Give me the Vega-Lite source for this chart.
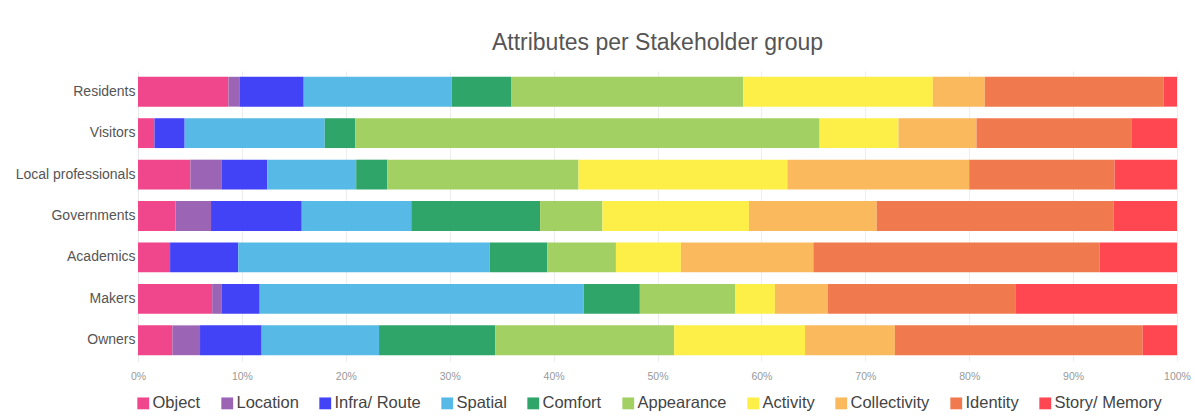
{
  "$schema": "https://vega.github.io/schema/vega-lite/v6.json",
  "width": 1039,
  "height": 290,
  "padding": {"left": 15, "top": 32, "right": 5, "bottom": 0},
  "background": "white",
  "title": {
    "text": "Attributes per Stakeholder group",
    "font": "Liberation Sans",
    "fontSize": 23,
    "fontWeight": "normal",
    "color": "#555555",
    "anchor": "middle",
    "offset": 16
  },
  "config": {
    "view": {"stroke": null},
    "font": "Liberation Sans"
  },
  "datasets": {
    "shares": [
      {"group": "Residents", "attribute": "Object", "n": 1, "value": 8.7},
      {"group": "Residents", "attribute": "Location", "n": 2, "value": 1.06},
      {"group": "Residents", "attribute": "Infra/ Route", "n": 3, "value": 6.19},
      {"group": "Residents", "attribute": "Spatial", "n": 4, "value": 14.25},
      {"group": "Residents", "attribute": "Comfort", "n": 5, "value": 5.7},
      {"group": "Residents", "attribute": "Appearance", "n": 6, "value": 22.36},
      {"group": "Residents", "attribute": "Activity", "n": 7, "value": 18.24},
      {"group": "Residents", "attribute": "Collectivity", "n": 8, "value": 5.0},
      {"group": "Residents", "attribute": "Identity", "n": 9, "value": 17.2},
      {"group": "Residents", "attribute": "Story/ Memory", "n": 10, "value": 1.3},

      {"group": "Visitors", "attribute": "Object", "n": 1, "value": 1.58},
      {"group": "Visitors", "attribute": "Location", "n": 2, "value": 0},
      {"group": "Visitors", "attribute": "Infra/ Route", "n": 3, "value": 2.91},
      {"group": "Visitors", "attribute": "Spatial", "n": 4, "value": 13.48},
      {"group": "Visitors", "attribute": "Comfort", "n": 5, "value": 2.93},
      {"group": "Visitors", "attribute": "Appearance", "n": 6, "value": 44.7},
      {"group": "Visitors", "attribute": "Activity", "n": 7, "value": 7.6},
      {"group": "Visitors", "attribute": "Collectivity", "n": 8, "value": 7.5},
      {"group": "Visitors", "attribute": "Identity", "n": 9, "value": 14.9},
      {"group": "Visitors", "attribute": "Story/ Memory", "n": 10, "value": 4.4},

      {"group": "Local professionals", "attribute": "Object", "n": 1, "value": 5.04},
      {"group": "Local professionals", "attribute": "Location", "n": 2, "value": 2.99},
      {"group": "Local professionals", "attribute": "Infra/ Route", "n": 3, "value": 4.42},
      {"group": "Local professionals", "attribute": "Spatial", "n": 4, "value": 8.55},
      {"group": "Local professionals", "attribute": "Comfort", "n": 5, "value": 3.0},
      {"group": "Local professionals", "attribute": "Appearance", "n": 6, "value": 18.4},
      {"group": "Local professionals", "attribute": "Activity", "n": 7, "value": 20.1},
      {"group": "Local professionals", "attribute": "Collectivity", "n": 8, "value": 17.5},
      {"group": "Local professionals", "attribute": "Identity", "n": 9, "value": 14.0},
      {"group": "Local professionals", "attribute": "Story/ Memory", "n": 10, "value": 6.0},

      {"group": "Governments", "attribute": "Object", "n": 1, "value": 3.61},
      {"group": "Governments", "attribute": "Location", "n": 2, "value": 3.42},
      {"group": "Governments", "attribute": "Infra/ Route", "n": 3, "value": 8.73},
      {"group": "Governments", "attribute": "Spatial", "n": 4, "value": 10.54},
      {"group": "Governments", "attribute": "Comfort", "n": 5, "value": 12.4},
      {"group": "Governments", "attribute": "Appearance", "n": 6, "value": 6.0},
      {"group": "Governments", "attribute": "Activity", "n": 7, "value": 14.1},
      {"group": "Governments", "attribute": "Collectivity", "n": 8, "value": 12.3},
      {"group": "Governments", "attribute": "Identity", "n": 9, "value": 22.8},
      {"group": "Governments", "attribute": "Story/ Memory", "n": 10, "value": 6.1},

      {"group": "Academics", "attribute": "Object", "n": 1, "value": 3.09},
      {"group": "Academics", "attribute": "Location", "n": 2, "value": 0},
      {"group": "Academics", "attribute": "Infra/ Route", "n": 3, "value": 6.56},
      {"group": "Academics", "attribute": "Spatial", "n": 4, "value": 24.2},
      {"group": "Academics", "attribute": "Comfort", "n": 5, "value": 5.55},
      {"group": "Academics", "attribute": "Appearance", "n": 6, "value": 6.6},
      {"group": "Academics", "attribute": "Activity", "n": 7, "value": 6.25},
      {"group": "Academics", "attribute": "Collectivity", "n": 8, "value": 12.75},
      {"group": "Academics", "attribute": "Identity", "n": 9, "value": 27.55},
      {"group": "Academics", "attribute": "Story/ Memory", "n": 10, "value": 7.45},

      {"group": "Makers", "attribute": "Object", "n": 1, "value": 7.14},
      {"group": "Makers", "attribute": "Location", "n": 2, "value": 0.89},
      {"group": "Makers", "attribute": "Infra/ Route", "n": 3, "value": 3.68},
      {"group": "Makers", "attribute": "Spatial", "n": 4, "value": 31.19},
      {"group": "Makers", "attribute": "Comfort", "n": 5, "value": 5.4},
      {"group": "Makers", "attribute": "Appearance", "n": 6, "value": 9.2},
      {"group": "Makers", "attribute": "Activity", "n": 7, "value": 3.8},
      {"group": "Makers", "attribute": "Collectivity", "n": 8, "value": 5.1},
      {"group": "Makers", "attribute": "Identity", "n": 9, "value": 18.1},
      {"group": "Makers", "attribute": "Story/ Memory", "n": 10, "value": 15.5},

      {"group": "Owners", "attribute": "Object", "n": 1, "value": 3.31},
      {"group": "Owners", "attribute": "Location", "n": 2, "value": 2.66},
      {"group": "Owners", "attribute": "Infra/ Route", "n": 3, "value": 5.93},
      {"group": "Owners", "attribute": "Spatial", "n": 4, "value": 11.3},
      {"group": "Owners", "attribute": "Comfort", "n": 5, "value": 11.2},
      {"group": "Owners", "attribute": "Appearance", "n": 6, "value": 17.2},
      {"group": "Owners", "attribute": "Activity", "n": 7, "value": 12.6},
      {"group": "Owners", "attribute": "Collectivity", "n": 8, "value": 8.65},
      {"group": "Owners", "attribute": "Identity", "n": 9, "value": 23.85},
      {"group": "Owners", "attribute": "Story/ Memory", "n": 10, "value": 3.3}
    ]
  },
  "data": {"name": "shares"},
  "mark": {"type": "bar", "strokeWidth": 0},
  "encoding": {
    "y": {
      "field": "group",
      "type": "nominal",
      "sort": ["Residents", "Visitors", "Local professionals", "Governments", "Academics", "Makers", "Owners"],
      "scale": {"paddingInner": 0.28, "paddingOuter": 0.14},
      "axis": {
        "title": null,
        "ticks": false,
        "domain": true,
        "domainColor": "#e8e8e8",
        "labelFont": "Liberation Sans",
        "labelFontSize": 14,
        "labelColor": "#555555",
        "labelPadding": 3
      }
    },
    "x": {
      "field": "value",
      "type": "quantitative",
      "stack": "normalize",
      "scale": {"domain": [0, 1], "nice": false},
      "axis": {
        "title": null,
        "format": ".0%",
        "values": [0, 0.1, 0.2, 0.3, 0.4, 0.5, 0.6, 0.7, 0.8, 0.9, 1],
        "grid": true,
        "gridColor": "#ededed",
        "domain": false,
        "ticks": false,
        "labelFont": "Liberation Sans",
        "labelFontSize": 10.5,
        "labelColor": "#999999",
        "labelPadding": 10,
        "labelFlush": false
      }
    },
    "order": {"field": "n", "type": "quantitative", "sort": "ascending"},
    "color": {
      "field": "attribute",
      "type": "nominal",
      "sort": ["Object", "Location", "Infra/ Route", "Spatial", "Comfort", "Appearance", "Activity", "Collectivity", "Identity", "Story/ Memory"],
      "scale": {
        "domain": ["Object", "Location", "Infra/ Route", "Spatial", "Comfort", "Appearance", "Activity", "Collectivity", "Identity", "Story/ Memory"],
        "range": ["#f0468c", "#9b64b4", "#4242f6", "#57b9e6", "#2fa56a", "#a2d062", "#fdef47", "#fbb95e", "#f07a4e", "#fe4751"]
      },
      "legend": {
        "title": null,
        "orient": "none",
        "direction": "horizontal",
        "legendX": -3,
        "legendY": 324,
        "columns": 10,
        "symbolType": "square",
        "symbolSize": 140,
        "symbolStrokeWidth": 0,
        "labelFont": "Liberation Sans",
        "labelFontSize": 16.5,
        "labelColor": "#444444",
        "labelOffset": 1,
        "columnPadding": 18
      }
    }
  }
}
